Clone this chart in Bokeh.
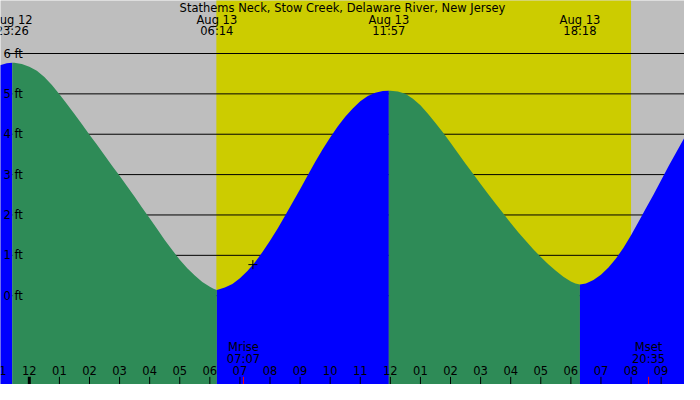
from bokeh.plotting import figure
from bokeh.models import Range1d
from bokeh.core.properties import value
from bokeh.embed import file_html
from bokeh.resources import INLINE

titulo = 'Stathems Neck, Stow Creek, Delaware River, New Jersey'

# horas desde Aug 13 00:00, alturas en ft (leidas cada 15 min)
horas = [-1.0, -0.75, -0.567, -0.5, -0.25, 0.0, 0.25, 0.5, 0.75, 1.0, 1.25,
         1.5, 1.75, 2.0, 2.25, 2.5, 2.75, 3.0, 3.25, 3.5, 3.75, 4.0, 4.25,
         4.5, 4.75, 5.0, 5.25, 5.5, 5.75, 6.0, 6.12, 6.233,
         6.5, 6.75, 7.0, 7.25, 7.5, 7.75, 8.0, 8.25, 8.5, 8.75, 9.0, 9.25,
         9.5, 9.75, 10.0, 10.25, 10.5, 10.75, 11.0, 11.25, 11.5, 11.75, 11.95,
         12.0, 12.25, 12.5, 12.75, 13.0, 13.25, 13.5, 13.75, 14.0, 14.25,
         14.5, 14.75, 15.0, 15.25, 15.5, 15.75, 16.0, 16.25, 16.5, 16.75,
         17.0, 17.25, 17.5, 17.75, 18.0, 18.15, 18.3,
         18.5, 18.75, 19.0, 19.25, 19.5, 19.75, 20.0, 20.25, 20.5, 20.75,
         21.0, 21.25, 21.5, 21.75, 22.0]
alturas = [5.70, 5.76, 5.77, 5.77, 5.74, 5.67, 5.57, 5.42, 5.22, 4.99, 4.75,
           4.50, 4.25, 3.99, 3.74, 3.48, 3.22, 2.97, 2.71, 2.45, 2.18, 1.92,
           1.65, 1.38, 1.13, 0.89, 0.68, 0.50, 0.34, 0.22, 0.17, 0.14,
           0.20, 0.29, 0.43, 0.61, 0.83, 1.08, 1.36, 1.66, 1.98, 2.31, 2.64,
           2.98, 3.31, 3.63, 3.92, 4.19, 4.43, 4.64, 4.82, 4.95, 5.03, 5.07,
           5.08,
           5.08, 5.06, 5.00, 4.88, 4.72, 4.51, 4.28, 4.04, 3.79, 3.53, 3.27,
           3.02, 2.77, 2.52, 2.28, 2.04, 1.80, 1.57, 1.36, 1.15, 0.96, 0.78,
           0.62, 0.47, 0.35, 0.30, 0.28,
           0.30, 0.39, 0.52, 0.70, 0.92, 1.19, 1.50, 1.83, 2.17, 2.51, 2.86,
           3.21, 3.55, 3.88, 4.20]

extremos_hora = [-0.567, 6.233, 11.95, 18.3]
extremos_dia = ['Aug 12', 'Aug 13', 'Aug 13', 'Aug 13']
extremos_texto = ['23:26', '06:14', '11:57', '18:18']

amanecer = 6.217
atardecer = 20.0

luna_hora = [7.117, 20.583]
luna_nombre = ['Mrise', 'Mset']
luna_texto = ['07:07', '20:35']

marca_hora = [7.43]
marca_altura = [0.77]

niveles = [0, 1, 2, 3, 4, 5, 6]
niveles_texto = ['0 ft', '1 ft', '2 ft', '3 ft', '4 ft', '5 ft', '6 ft']

horas_eje = list(range(-1, 22))
horas_eje_texto = ['11', '12', '01', '02', '03', '04', '05', '06', '07', '08',
                   '09', '10', '11', '12', '01', '02', '03', '04', '05', '06',
                   '07', '08', '09']

GRIS = '#bebebe'
AMARILLO = '#cccc00'
VERDE = '#2e8b57'
AZUL = '#0000ff'
FUENTE = value('DejaVu Sans')


def texto(p, x, y, t, align='center', size='11.5px'):
    p.text(x=x, y=y, text=t, text_font=FUENTE, text_font_size=size,
           text_align=align, text_baseline='middle', text_color='black')


def graficar():
    p = figure(width=684, height=384, x_range=Range1d(-0.958, 21.777),
               y_range=Range1d(-2.2, 7.313), output_backend='svg',
               toolbar_location=None, min_border=0,
               x_axis_location=None, y_axis_location=None,
               background_fill_color=GRIS, border_fill_color=GRIS)
    p.grid.visible = False
    p.outline_line_color = None

    p.quad(left=[amanecer], right=[atardecer], bottom=[-3], top=[8],
           color=AMARILLO, line_width=0)

    p.segment(x0=[-0.714] * len(niveles), x1=[22.5] * len(niveles),
              y0=niveles, y1=niveles, line_color='black', line_width=1)

    cortes = [horas[0]] + extremos_hora + [horas[-1]]
    for a, b in zip(cortes[:-1], cortes[1:]):
        xs = [h for h in horas if a <= h <= b]
        ys = [alturas[horas.index(h)] for h in xs]
        color = VERDE if ys[0] > ys[-1] else AZUL
        p.varea(x=xs, y1=[-3] * len(xs), y2=ys, fill_color=color)

    texto(p, [-0.861] * len(niveles), niveles, niveles_texto, align='left')

    texto(p, horas_eje, [-1.843] * len(horas_eje), horas_eje_texto)
    anchos = [3 if h == 0 else 1 for h in horas_eje]
    p.segment(x0=horas_eje, x1=horas_eje, y0=[-2.01] * len(horas_eje),
              y1=[-2.5] * len(horas_eje), line_color='black', line_width=anchos)
    p.segment(x0=luna_hora, x1=luna_hora, y0=[-2.01] * 2, y1=[-2.5] * 2,
              line_color='red', line_width=1)
    texto(p, luna_hora, [-1.272] * 2, luna_nombre)
    texto(p, luna_hora, [-1.558] * 2, luna_texto)

    p.scatter(marca_hora, marca_altura, marker='cross', size=9,
              line_color='black', line_width=1)

    texto(p, [10.41], [7.12], [titulo])
    texto(p, extremos_hora, [6.84] * 4, extremos_dia)
    texto(p, extremos_hora, [6.55] * 4, extremos_texto)
    return p


if __name__ == '__main__':
    grafica = graficar()
    open('out.html', 'w').write(file_html(grafica, INLINE))
